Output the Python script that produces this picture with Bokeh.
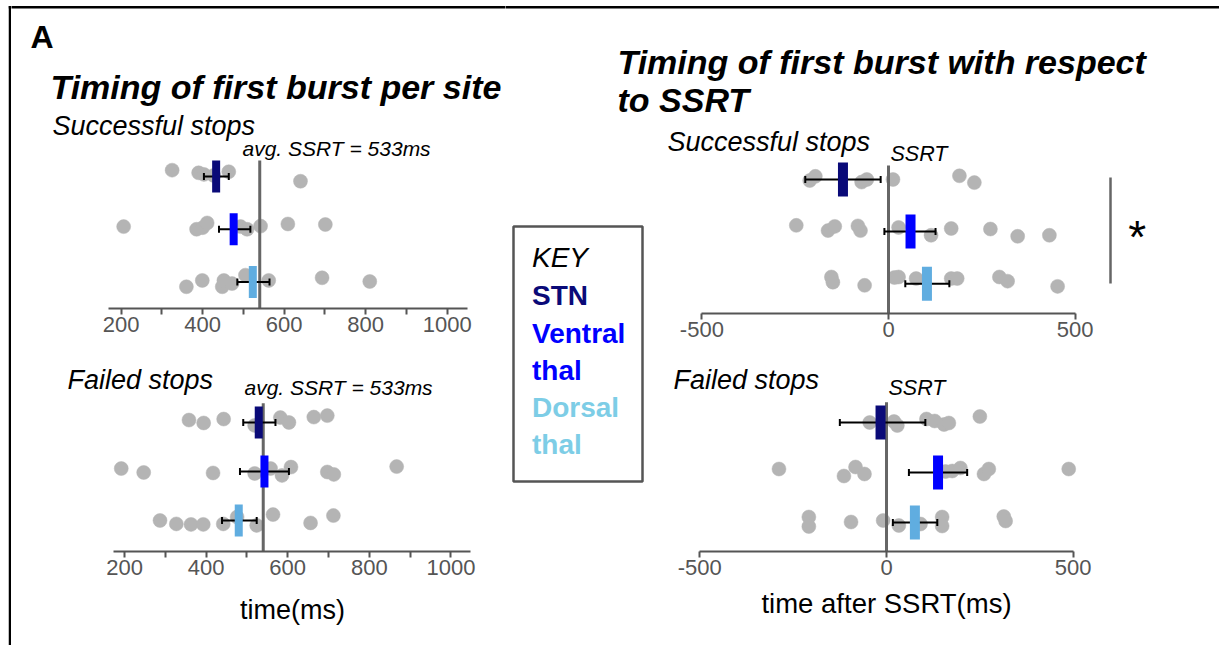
import numpy as np
from bokeh.plotting import figure
from bokeh.models import Range1d, FixedTicker
from bokeh.layouts import row, column
from bokeh.embed import file_html
from bokeh.resources import INLINE
from bokeh.core.properties import value

FONT = "Liberation Sans"

# ---------------- data ----------------
sites = ["STN", "Ventral thal", "Dorsal thal"]
site_row = [3, 2, 1]
bar_colors = ["#0a0a78", "#0000ff", "#60ade0"]
key_colors = ["#0a0a78", "#0000ff", "#7dcde6"]
dot_color = "#b4b4b4"

avg_ssrt_ms = 533
ssrt_line_ms = 540
ssrt_rel = 0

raw_ticks = [200, 400, 600, 800, 1000]
raw_minor = [300, 500, 700, 900]
rel_ticks = [-500, 0, 500]
rel_tick_labels = {-500: "-500", 0: "0", 500: "500"}

# Successful stops, first burst time (ms)
succ_ms_stn = [325, 390, 403, 427, 464, 640]
succ_ms_stn_jit = [0.12, 0.07, 0.04, 0.02, 0.09, -0.09]
succ_ms_vt = [206, 385, 400, 411, 493, 509, 542, 609, 701]
succ_ms_vt_jit = [0.05, 0.0, 0.03, 0.12, 0.05, 0.0, 0.06, 0.1, 0.09]
succ_ms_dt = [360, 399, 448, 452, 472, 505, 562, 693, 810]
succ_ms_dt_jit = [-0.09, 0.03, -0.09, 0.03, -0.03, 0.13, 0.03, 0.08, 0.01]
succ_ms_mean = [433, 476, 523]
succ_ms_lo = [403, 440, 485]
succ_ms_hi = [464, 517, 564]

# Failed stops, first burst time (ms)
fail_ms_stn = [358, 394, 443, 519, 582, 603, 664, 697]
fail_ms_stn_jit = [0.05, -0.01, 0.07, -0.06, 0.1, 0.0, 0.11, 0.14]
fail_ms_vt = [192, 247, 417, 519, 558, 586, 608, 697, 713, 867]
fail_ms_vt_jit = [0.06, -0.02, -0.03, -0.04, 0.06, -0.08, 0.09, -0.01, -0.06, 0.1]
fail_ms_dt = [287, 327, 363, 393, 442, 476, 524, 564, 656, 712]
fail_ms_dt_jit = [0.0, -0.07, -0.08, -0.08, -0.07, 0.07, -0.1, 0.12, -0.05, 0.1]
fail_ms_mean = [529, 543, 480]
fail_ms_lo = [491, 483, 439]
fail_ms_hi = [570, 603, 524]

# Successful stops, time after SSRT (ms)
succ_rel_stn = [-211, -196, -72, -58, 12, 190, 230]
succ_rel_stn_jit = [-0.02, 0.06, -0.05, 0.0, 0.0, 0.07, -0.06]
succ_rel_vt = [-247, -162, -144, -82, -75, 27, 114, 168, 273, 346, 431]
succ_rel_vt_jit = [0.12, 0.02, 0.1, 0.11, 0.02, 0.08, -0.07, 0.06, 0.05, -0.09, -0.07]
succ_rel_dt = [-153, -149, -64, 16, 27, 74, 168, 184, 297, 319, 453]
succ_rel_dt_jit = [0.13, 0.03, -0.03, 0.12, 0.13, 0.1, 0.1, 0.1, 0.13, 0.05, -0.05]
succ_rel_mean = [-122, 59, 103]
succ_rel_lo = [-223, -11, 45]
succ_rel_hi = [-21, 126, 163]

# Failed stops, time after SSRT (ms)
fail_rel_stn = [-45, 20, 29, 107, 129, 154, 167, 250]
fail_rel_stn_jit = [0.0, 0.02, -0.06, 0.07, 0.03, -0.04, -0.01, 0.12]
fail_rel_vt = [-288, -114, -83, -59, 158, 176, 198, 261, 274, 488]
fail_rel_vt_jit = [0.07, -0.07, 0.11, -0.03, 0.02, 0.03, 0.09, -0.03, 0.07, 0.07]
fail_rel_dt = [-208, -208, -95, -9, 33, 91, 149, 149, 314, 319]
fail_rel_dt_jit = [0.11, -0.08, 0.01, 0.04, -0.06, -0.03, 0.11, -0.07, 0.12, 0.03]
fail_rel_mean = [-16, 138, 76]
fail_rel_lo = [-125, 60, 17]
fail_rel_hi = [104, 216, 136]


# ---------------- helpers ----------------
def clean(p):
    p.grid.visible = False
    p.outline_line_color = None
    p.background_fill_color = "white"
    p.border_fill_color = "white"


def blank(w, h):
    p = figure(width=w, height=h, x_range=Range1d(0, w), y_range=Range1d(h, 0),
               output_backend="svg", toolbar_location=None,
               x_axis_location=None, y_axis_location=None,
               min_border_left=0, min_border_right=0, min_border_top=0, min_border_bottom=0)
    p.extra_x_ranges = {"px": Range1d(0, w)}
    p.extra_y_ranges = {"px": Range1d(h, 0)}
    clean(p)
    return p


def txt(p, x, y, s, size, style="normal", color="black", align="left"):
    # y is the wanted baseline; the drawn anchor sits ~0.34 em above it
    p.text(x=[x], y=[y - 0.34 * size], text=[s], x_range_name="px", y_range_name="px",
           text_font=value(FONT), text_font_size=f"{size}px", text_font_style=style,
           text_color=color, text_align=align, text_baseline="alphabetic")


def hline_px(p, x0, x1, y, color="black", width=2.5):
    p.segment(x0=[x0], x1=[x1], y0=[y], y1=[y], x_range_name="px", y_range_name="px",
              line_color=color, line_width=width)


def panel(w, h, frame_h, xr, yr, bounds, major, minor, dots, jits, means, los, his,
          ssrt_x, ssrt_top_px, bar_w, bar_h, overrides=None):
    p = figure(width=w, height=h, x_range=Range1d(*xr), y_range=Range1d(*yr),
               output_backend="svg", toolbar_location=None, y_axis_location=None,
               min_border_left=0, min_border_right=0, min_border_top=0,
               min_border_bottom=h - frame_h)
    p.extra_x_ranges = {"px": Range1d(0, w)}
    p.extra_y_ranges = {"px": Range1d(frame_h, 0)}
    clean(p)
    ax = p.xaxis[0]
    ax.bounds = bounds
    ax.ticker = FixedTicker(ticks=major, minor_ticks=minor)
    if overrides:
        ax.major_label_overrides = overrides
    ax.axis_line_color = "#555555"
    ax.axis_line_width = 2
    ax.major_tick_line_color = "#555555"
    ax.major_tick_line_width = 2
    ax.minor_tick_line_color = "#555555"
    ax.minor_tick_line_width = 2
    ax.major_tick_in = 0
    ax.major_tick_out = 6
    ax.minor_tick_in = 0
    ax.minor_tick_out = 6
    ax.major_label_standoff = 2
    ax.major_label_text_font = FONT
    ax.major_label_text_font_size = "22px"
    ax.major_label_text_color = "#555555"

    for r, vals, jit in zip(site_row, dots, jits):
        p.scatter(vals, [r + j for j in jit], size=14, fill_color=dot_color,
                  line_color=dot_color, line_width=0.5)
    # SSRT reference line
    p.segment(x0=[ssrt_x], x1=[ssrt_x], y0=[ssrt_top_px], y1=[frame_h],
              y_range_name="px", line_color="#666666", line_width=3)
    # error bars
    p.segment(x0=los, x1=his, y0=site_row, y1=site_row, line_color="black", line_width=2)
    p.rect(x=list(los) + list(his), y=site_row * 2, width=2, height=7,
           width_units="screen", height_units="screen",
           fill_color="black", line_color=None)
    # means
    p.rect(x=means, y=site_row, width=bar_w, height=bar_h,
           width_units="screen", height_units="screen",
           fill_color=bar_colors, line_color=None)
    return p


# ---------------- left strip (outer frame) ----------------
strip = blank(11, 645)
strip.segment(x0=[9.5], x1=[9.5], y0=[5.6], y1=[646], x_range_name="px", y_range_name="px",
              line_color="black", line_width=2.5)
hline_px(strip, 8.25, 12, 6.8)

# ---------------- top-left panel ----------------
L1 = panel(494, 360, 308, (-69.2, 1143.1), (0.498, 6.336), (170, 1050), raw_ticks, raw_minor,
           [succ_ms_stn, succ_ms_vt, succ_ms_dt],
           [succ_ms_stn_jit, succ_ms_vt_jit, succ_ms_dt_jit],
           succ_ms_mean, succ_ms_lo, succ_ms_hi, ssrt_line_ms, 160, 8, 32)
hline_px(L1, -2, 496, 6.8)
txt(L1, 19, 47, "A", 32, style="bold")
txt(L1, 39, 98, "Timing of first burst per site", 34, style="bold italic")
txt(L1, 41, 135, "Successful stops", 27, style="italic")
txt(L1, 231, 155, f"avg. SSRT = {avg_ssrt_ms}ms", 21, style="italic")

# ---------------- bottom-left panel ----------------
L2 = panel(494, 227, 191, (-77.0, 1133.8), (0.367, 4.265), (172, 1048), raw_ticks, raw_minor,
           [fail_ms_stn, fail_ms_vt, fail_ms_dt],
           [fail_ms_stn_jit, fail_ms_vt_jit, fail_ms_dt_jit],
           fail_ms_mean, fail_ms_lo, fail_ms_hi, ssrt_line_ms, 42.7, 8, 32)
txt(L2, 56, 28.5, "Failed stops", 27, style="italic")
txt(L2, 233, 34, f"avg. SSRT = {avg_ssrt_ms}ms", 21, style="italic")

L3 = blank(494, 58)
txt(L3, 281, 32, "time(ms)", 27, align="center")

# ---------------- right header ----------------
H = blank(714, 125)
hline_px(H, -2, 716, 6.8)
txt(H, 112, 73, "Timing of first burst with respect", 34, style="bold italic")
txt(H, 112, 111.5, "to SSRT", 34, style="bold italic")

# ---------------- key ----------------
K = blank(146, 520)
K.quad(left=[8], right=[137], top=[101], bottom=[356], x_range_name="px", y_range_name="px",
       fill_color=None, line_color="#555555", line_width=2.5)
txt(K, 26.5, 141.5, "KEY", 28, style="italic")
key_lines = [("STN", 0), ("Ventral", 1), ("thal", 1), ("Dorsal", 2), ("thal", 2)]
key_base = [180, 218, 255, 292, 329]
for (s, ci), yb in zip(key_lines, key_base):
    txt(K, 26.5, yb, s, 28, style="bold", color=key_colors[ci])

# ---------------- top-right panel ----------------
R1 = panel(568, 235, 188, (-634.9, 886.7), (0.43, 4.035), (-500, 500), rel_ticks, [],
           [succ_rel_stn, succ_rel_vt, succ_rel_dt],
           [succ_rel_stn_jit, succ_rel_vt_jit, succ_rel_dt_jit],
           succ_rel_mean, succ_rel_lo, succ_rel_hi, ssrt_rel, 40, 10, 34, rel_tick_labels)
txt(R1, 16, 26, "Successful stops", 27, style="italic")
txt(R1, 239, 35.5, "SSRT", 21.5, style="italic")
R1.segment(x0=[459], x1=[459], y0=[52], y1=[158], x_range_name="px", y_range_name="px",
           line_color="#666666", line_width=2.5)
R1.text(x=[485.7], y=[111.5], text=["*"], x_range_name="px", y_range_name="px",
        text_font=value(FONT), text_font_size="46px", text_align="center",
        text_baseline="middle", text_color="black")

# ---------------- bottom-right panel ----------------
R2 = panel(568, 227, 191, (-629.4, 891.8), (0.42, 4.24), (-500, 500), rel_ticks, [],
           [fail_rel_stn, fail_rel_vt, fail_rel_dt],
           [fail_rel_stn_jit, fail_rel_vt_jit, fail_rel_dt_jit],
           fail_rel_mean, fail_rel_lo, fail_rel_hi, ssrt_rel, 41.7, 10, 34, rel_tick_labels)
txt(R2, 22, 28.7, "Failed stops", 27, style="italic")
txt(R2, 237, 35, "SSRT", 21.5, style="italic")

R3 = blank(568, 58)
txt(R3, 235, 25, "time after SSRT(ms)", 27.5, align="center")

layout = row(
    strip,
    column(L1, L2, L3),
    column(H, row(K, column(R1, R2, R3))),
)

open("out.html", "w").write(file_html(layout, INLINE))
